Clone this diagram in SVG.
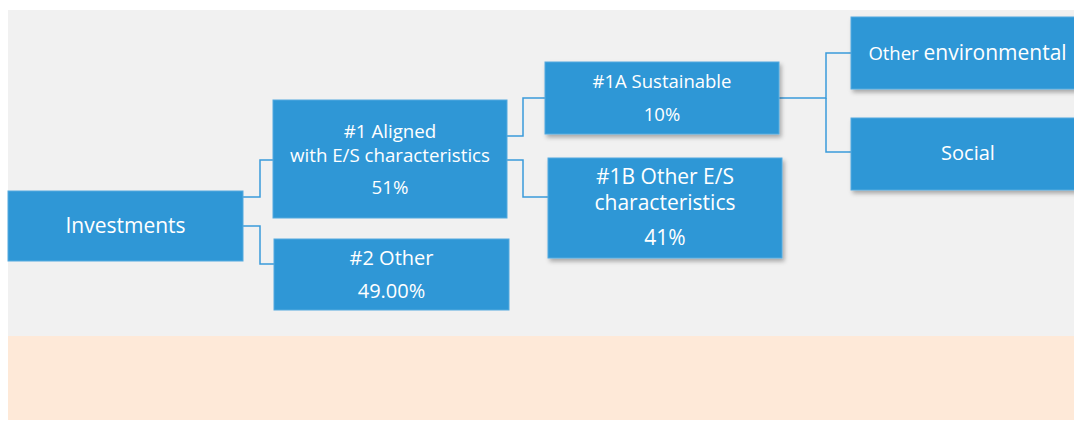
<svg xmlns="http://www.w3.org/2000/svg" width="1074" height="421" viewBox="0 0 1074 421">
  <defs>
    <filter id="shadow" x="-10%" y="-10%" width="130%" height="140%">
      <feDropShadow dx="2" dy="3" stdDeviation="2" flood-color="#000" flood-opacity="0.3"/>
    </filter>
    <style>
      .box { fill: #2F97D6; stroke: #55AADF; stroke-width: 1; }
      .sh { filter: url(#shadow); }
      .t { font-family: "Open Sans", "Noto Sans", "Liberation Sans", sans-serif; fill: #FFFFFF; text-anchor: middle; }
      .conn { fill: none; stroke: #3A9BDA; stroke-width: 1.5; }
    </style>
  </defs>
  <rect x="0" y="0" width="1074" height="421" fill="#FFFFFF"/>
  <rect x="8" y="10" width="1066" height="326" fill="#F1F1F1"/>
  <rect x="8" y="336" width="1066" height="84" fill="#FEE9D8"/>

  <g id="connectors">
    <path class="conn" d="M243,197 H260 V160 H273"/>
    <path class="conn" d="M243,226 H260 V264 H274"/>
    <path class="conn" d="M507,136 H523 V98 H545"/>
    <path class="conn" d="M507,160 H523 V197 H548"/>
    <path class="conn" d="M779,98 H826 V53 H851"/>
    <path class="conn" d="M826,98 V152 H851"/>
  </g>

  <g id="investments">
    <rect class="box" x="8" y="191" width="235" height="70"/>
    <text class="t" x="125.5" y="232.5" font-size="21">Investments</text>
  </g>

  <g id="aligned">
    <rect class="box" x="273" y="100" width="234" height="118"/>
    <text class="t" x="390" y="138" font-size="18.7">#1 Aligned</text>
    <text class="t" x="390" y="161.5" font-size="18.7">with E/S characteristics</text>
    <text class="t" x="390" y="194" font-size="18.7">51%</text>
  </g>

  <g id="other2">
    <rect class="box" x="274" y="239" width="235" height="71"/>
    <text class="t" x="391.5" y="265" font-size="20">#2 Other</text>
    <text class="t" x="391.5" y="298" font-size="20">49.00%</text>
  </g>

  <g id="sustainable">
    <rect class="box sh" x="545" y="62" width="234" height="72"/>
    <text class="t" x="662" y="88" font-size="18.5">#1A Sustainable</text>
    <text class="t" x="662" y="120.5" font-size="18.5">10%</text>
  </g>

  <g id="other-es">
    <rect class="box sh" x="548" y="158" width="234" height="100"/>
    <text class="t" x="665" y="184" font-size="21">#1B Other E/S</text>
    <text class="t" x="665" y="210" font-size="21">characteristics</text>
    <text class="t" x="665" y="245" font-size="21">41%</text>
  </g>

  <g id="other-environmental">
    <rect class="box sh" x="851" y="17" width="234" height="72"/>
    <text class="t" x="967.5" y="60" font-size="21"><tspan font-size="18.5">Other </tspan>environmental</text>
  </g>

  <g id="social">
    <rect class="box sh" x="851" y="118" width="234" height="72"/>
    <text class="t" x="968" y="160" font-size="20">Social</text>
  </g>
</svg>
